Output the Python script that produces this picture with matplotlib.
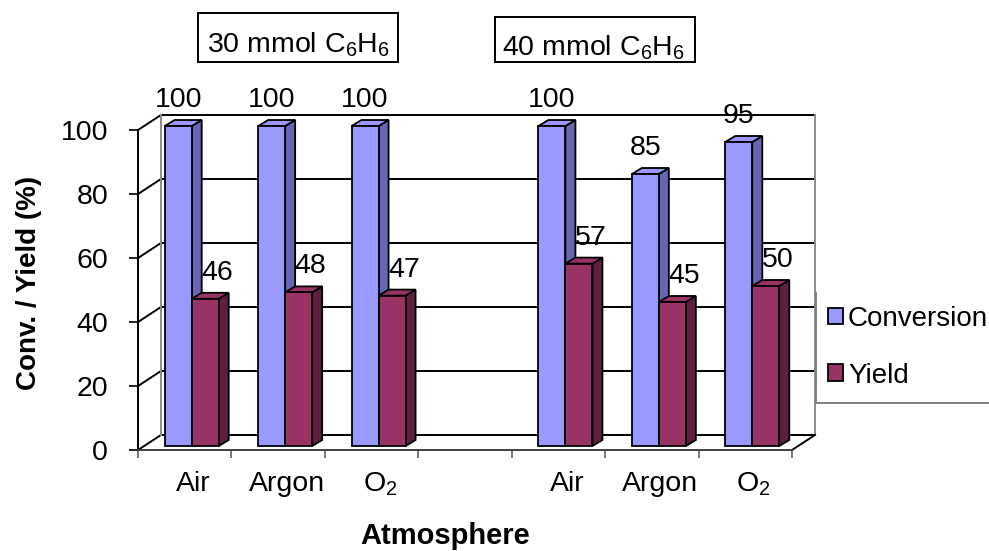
import matplotlib
matplotlib.use('Agg')
import matplotlib.pyplot as plt
from matplotlib.patches import Polygon, Rectangle, Patch
from matplotlib.lines import Line2D
import numpy as np

plt.rcParams['font.family'] = ['Liberation Sans', 'DejaVu Sans']
plt.rcParams['mathtext.fontset'] = 'custom'
plt.rcParams['mathtext.rm'] = 'Liberation Sans'
plt.rcParams['mathtext.default'] = 'regular'

# data
atmospheres = ['Air', 'Argon', 'O$_2$']
group_titles = ['30 mmol C$_6$H$_6$', '40 mmol C$_6$H$_6$']
conversion_30 = [100, 100, 100]
yield_30 = [46, 48, 47]
conversion_40 = [100, 85, 95]
yield_40 = [57, 45, 50]

positions = [0, 1, 2, 4, 5, 6]   # slot 3 left empty between groups
conversion = conversion_30 + conversion_40
yields = yield_30 + yield_40
xlabels = atmospheres + atmospheres

W, H = 989, 551
fig = plt.figure(figsize=(W / 100, H / 100), dpi=100)
ax = fig.add_axes([138 / W, (H - 450) / H, 654 / W, 320 / H])
ax.set_xlim(-0.5, 6.5)
ax.set_ylim(0, 100)
ax.patch.set_visible(False)

# pixel -> data helpers
px_x = 7 / 654
px_y = 100 / 320
wall_dx, wall_dy = 23 * px_x, 15 * px_y
bar_w = 27 * px_x
shift_x, shift_y = 7 * px_x, 4 * px_y
depth_x, depth_y = 10 * px_x, 6 * px_y

# back wall, left wall lines
for v in range(0, 101, 20):
    ax.plot([-0.5 + wall_dx, 6.5 + wall_dx], [v + wall_dy] * 2, color='black', lw=1.4, clip_on=False, zorder=1)
    ax.plot([-0.5, -0.5 + wall_dx], [v, v + wall_dy], color='black', lw=1.4, clip_on=False, zorder=1)
ax.plot([-0.5 + wall_dx] * 2, [wall_dy, 100 + wall_dy], color='#8c8c8c', lw=1.4, clip_on=False, zorder=1)
ax.plot([6.5 + wall_dx] * 2, [wall_dy, 100 + wall_dy], color='#8c8c8c', lw=1.4, clip_on=False, zorder=1)
ax.plot([6.5, 6.5 + wall_dx], [0, wall_dy], color='black', lw=1.4, clip_on=False, zorder=1)


def bar3d(x0, h, face, side, top, z):
    x1 = x0 + bar_w
    y0 = shift_y
    y1 = shift_y + h
    kw = dict(edgecolor='black', lw=1.3, clip_on=False, zorder=z, joinstyle='miter')
    ax.add_patch(Polygon([(x1, y0), (x1 + depth_x, y0 + depth_y), (x1 + depth_x, y1 + depth_y), (x1, y1)], facecolor=side, **kw))
    ax.add_patch(Polygon([(x0, y1), (x1, y1), (x1 + depth_x, y1 + depth_y), (x0 + depth_x, y1 + depth_y)], facecolor=top, **kw))
    ax.add_patch(Polygon([(x0, y0), (x1, y0), (x1, y1), (x0, y1)], facecolor=face, **kw))
    return (x0 + x1) / 2, y1


z = 3
for p, c, y in zip(positions, conversion, yields):
    cx, cy = bar3d(p - bar_w + shift_x, c, '#9999ff', '#6666b3', '#9999ff', z)
    ax.annotate(str(c), (cx, cy), xytext=(0, 26), textcoords='offset pixels',
                ha='center', va='center', fontsize=20.5, zorder=20, annotation_clip=False)
    yx, yy = bar3d(p + shift_x, y, '#993366', '#5e1f40', '#993366', z + 1)
    ax.annotate(str(y), (yx, yy), xytext=(12, 26), textcoords='offset pixels',
                ha='center', va='center', fontsize=20.5, zorder=20, annotation_clip=False)
    z += 2

# axes
for s in ['top', 'right']:
    ax.spines[s].set_visible(False)
ax.spines['left'].set_color('black')
ax.spines['left'].set_linewidth(1.4)
ax.spines['bottom'].set_color('#404040')
ax.spines['bottom'].set_linewidth(1.4)

ax.set_xticks([p + 0.09 for p in positions])
ax.set_xticklabels(xlabels)
ax.set_xticks(np.arange(-0.5, 7, 1), minor=True)
ax.tick_params(axis='x', which='major', length=0, pad=15, labelsize=20.5)
ax.tick_params(axis='x', which='minor', length=6, width=1.2, color='#606060')
ax.set_yticks(range(0, 101, 20))
ax.tick_params(axis='y', length=6.5, width=1.2, pad=15, labelsize=20.5)

ax.set_ylabel('Conv. / Yield (%)', fontsize=20, fontweight='bold')
ax.yaxis.set_label_coords((42 - 138) / 654, (450 - 283) / 320)
ax.set_xlabel('Atmosphere', fontsize=21, fontweight='bold')
ax.xaxis.set_label_coords((445 - 138) / 654, (450 - 522) / 320)

# group title boxes
for title, (bx0, by0, bx1, by1), (tx, ty) in zip(group_titles,
                                                 [(198, 13, 398, 62), (495, 17, 695, 62)],
                                                 [(207, 53), (502, 55)]):
    fig.patches.append(Rectangle((bx0 / W, 1 - by1 / H), (bx1 - bx0) / W, (by1 - by0) / H,
                                 transform=fig.transFigure, fill=False, edgecolor='black', lw=1.4))
    fig.text(tx / W, 1 - ty / H, title, fontsize=20.5, ha='left', va='baseline')

# legend
handles = [Patch(facecolor='#9999ff', edgecolor='black', lw=1.3),
           Patch(facecolor='#993366', edgecolor='black', lw=1.3)]
fig.legend(handles, ['Conversion', 'Yield'], loc='upper left',
           bbox_to_anchor=(828 / W, 1 - 306 / H), frameon=False, fontsize=20,
           borderpad=0, borderaxespad=0, handlelength=0.54, handleheight=0.54,
           handletextpad=0.18, labelspacing=1.1)
fig.lines.append(Line2D([816 / W, 816 / W], [1 - 293 / H, 1 - 403 / H], transform=fig.transFigure,
                        color='#808080', lw=1.4))
fig.lines.append(Line2D([816 / W, 1.0], [1 - 403 / H, 1 - 403 / H], transform=fig.transFigure,
                        color='#808080', lw=1.4))

fig.savefig('out.png', dpi=100)
